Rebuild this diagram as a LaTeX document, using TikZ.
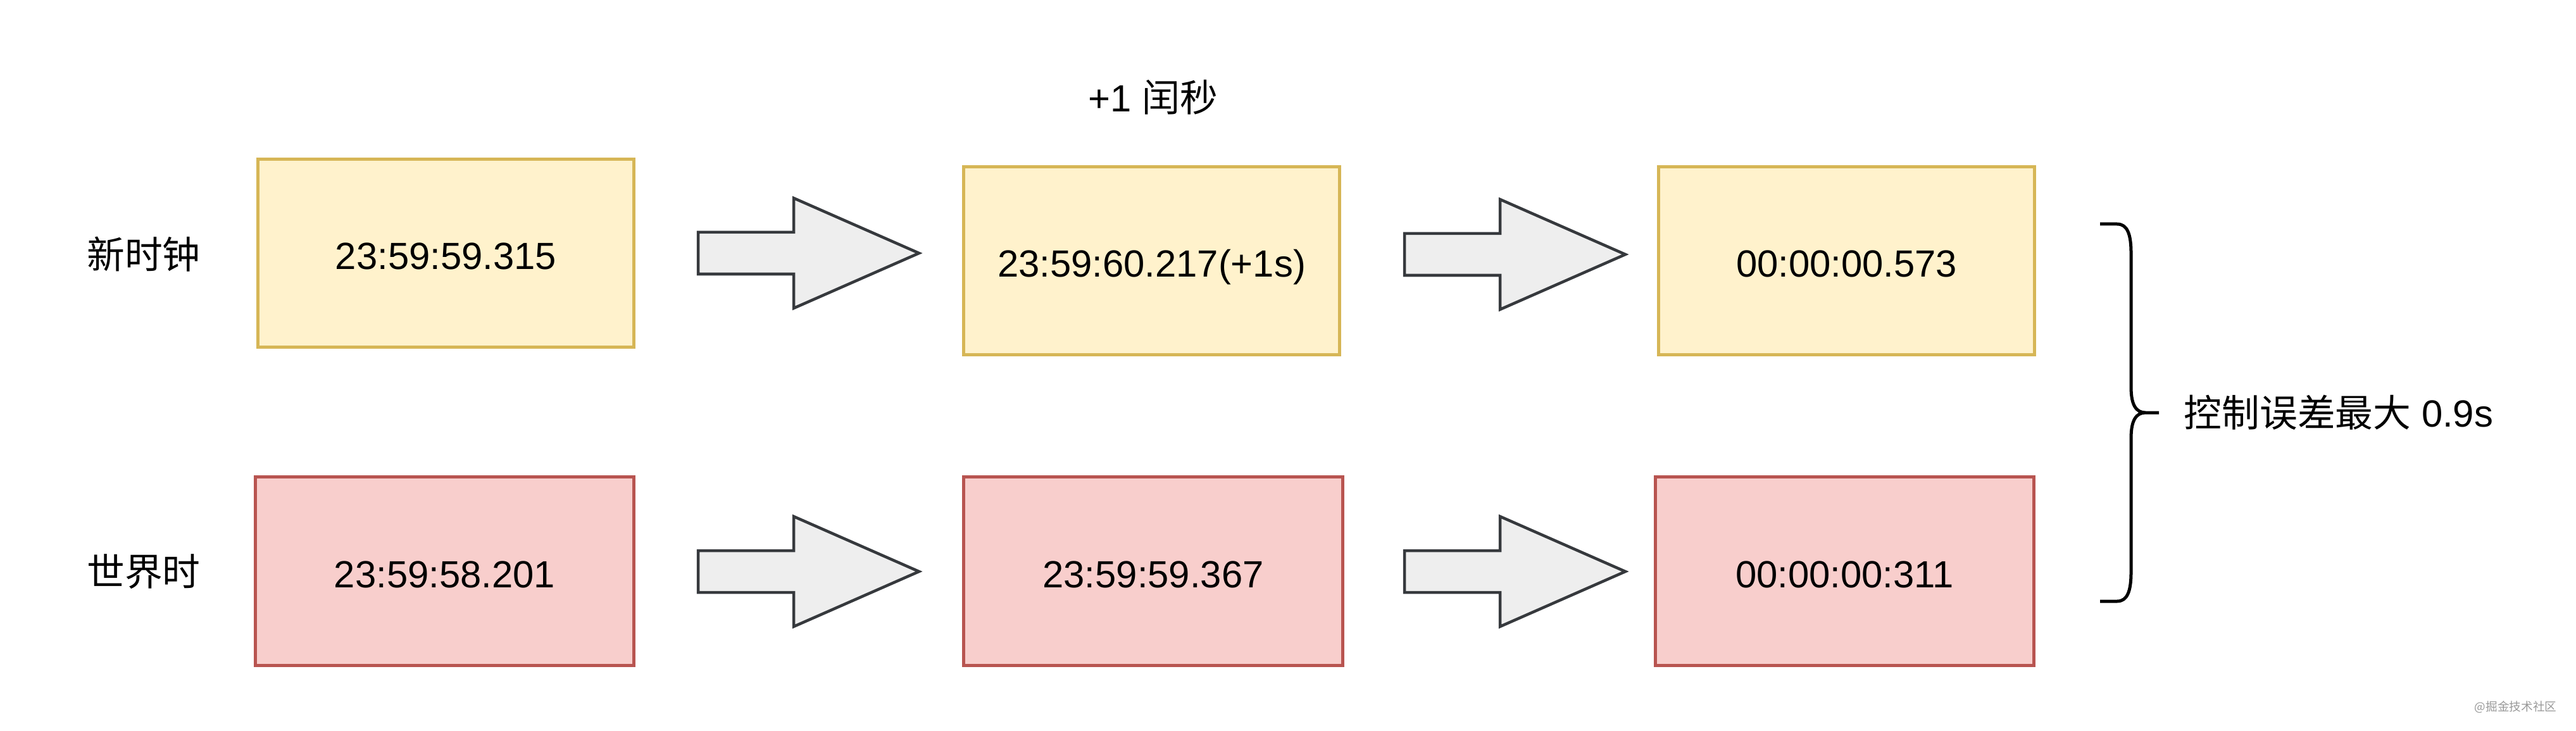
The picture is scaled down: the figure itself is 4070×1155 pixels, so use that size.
\documentclass[tikz,border=0pt]{standalone}
\usepackage{fontspec}
\setmainfont{Liberation Sans}
\newfontfamily\cjk{Noto Sans CJK SC}
\definecolor{newfill}{HTML}{FFF2CC}
\definecolor{newline}{HTML}{D6B656}
\definecolor{utcfill}{HTML}{F8CECC}
\definecolor{utcline}{HTML}{B85450}
\definecolor{arrfill}{HTML}{EEEEEE}
\definecolor{arrline}{HTML}{36393D}
\tikzset{
	clockbox/.style={draw,line width=0.05cm,inner sep=0,minimum height=2.97cm,
		text height=14.5pt,text depth=0pt,font=\fontsize{17}{20}\selectfont},
	newclk/.style={clockbox,fill=newfill,draw=newline,minimum width=5.94cm},
	utcclk/.style={clockbox,fill=utcfill,draw=utcline,minimum width=5.98cm},
	rowname/.style={inner sep=0,font=\fontsize{17}{20}\selectfont},
	fatarrow/.style={fill=arrfill,draw=arrline,line width=0.045cm,line join=miter},
	curly/.style={line width=0.05cm,line join=round},
}
\newcommand{\fatarrow}[1]{\draw[fatarrow] (#1) ++(0,-33) -- ++(151,0) -- ++(0,-54)
	-- ++(198,87) -- ++(-198,87) -- ++(0,-54) -- ++(-151,0) -- cycle;}
\begin{document}
\begin{tikzpicture}[x=0.01cm,y=-0.01cm]
			\useasboundingbox (0,0) rectangle (4070,1155);
			% row names
			\node[rowname] (lnew) at (227,402) {\cjk 新时钟};
			\node[rowname] (lutc) at (227,903) {\cjk 世界时};
			\node[rowname] (leap) at (1822,154) {+1 {\cjk 闰秒}};
			% new clock
			\node[newclk] (n1) at (704.5,400) {23:59:59.315};
			\node[newclk] (n2) at (1819.5,412) {23:59:60.217(+1s)};
			\node[newclk] (n3) at (2917.5,412) {00:00:00.573};
			% world time
			\node[utcclk] (u1) at (702.5,902.5) {23:59:58.201};
			\node[utcclk] (u2) at (1822,902.5) {23:59:59.367};
			\node[utcclk] (u3) at (2914.5,902.5) {00:00:00:311};
			% arrows
			\coordinate (an1) at (1103,400);
			\coordinate (an2) at (2219,402);
			\coordinate (au1) at (1103,903);
			\coordinate (au2) at (2219,903);
			\fatarrow{an1}
			\fatarrow{an2}
			\fatarrow{au1}
			\fatarrow{au2}
			% brace
			\coordinate (btop) at (3318,354);
			\coordinate (btip) at (3411,652);
			\coordinate (bbot) at (3318,950);
			\draw[curly] (btop) -- (3345,354) .. controls (3361,354) and (3367,370) .. (3367,400)
				-- (3367,612) .. controls (3367,640) and (3375,652) .. (3390,652) -- (btip)
				(3390,652) .. controls (3375,652) and (3367,664) .. (3367,692)
				-- (3367,904) .. controls (3367,934) and (3361,950) .. (3345,950) -- (bbot);
			\node[rowname,anchor=west] (err) at (3450,652) {{\cjk 控制误差最大} 0.9s};
			%\draw (btip) -- (err);
			\node[inner sep=0,anchor=east,text=black!40,font=\cjk\fontsize{5.3}{6}\selectfont] (wm) at (4040,1117) {@掘金技术社区};
		\end{tikzpicture}
\end{document}
